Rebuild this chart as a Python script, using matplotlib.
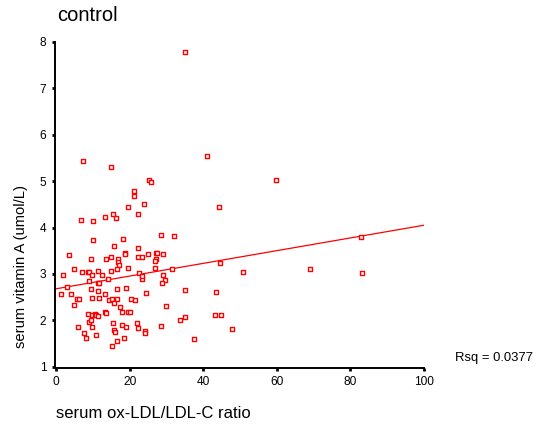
import matplotlib
matplotlib.use('Agg')
import matplotlib.pyplot as plt
import numpy as np

# serum ox-LDL/LDL-C ratio (x) and serum vitamin A (y), control group
ratio = [35.1, 7.4, 14.9, 41.0, 25.4, 25.9, 21.3, 21.3, 23.9, 19.7, 44.2, 59.7,
         6.7, 10.0, 13.2, 15.4, 16.2, 22.3,
         10.0, 15.8, 18.2, 28.5, 32.0,
         3.4, 9.5, 14.9, 13.6, 16.9, 16.9, 17.2, 18.7, 18.7, 22.4, 22.4, 23.3,
         24.9, 27.1, 27.5, 27.1, 26.9, 29.0, 26.8, 31.6, 19.7, 16.5, 44.5,
         2.0, 4.9, 7.2, 8.6, 9.0, 9.9, 11.4, 12.6, 14.9, 9.1, 11.5, 11.8, 14.1,
         22.6, 23.4, 23.4, 29.0, 29.6, 28.8,
         2.9, 1.3, 4.0, 5.6, 6.3, 4.8, 9.5, 11.4, 13.3, 11.6, 9.7, 16.5, 19.0,
         14.5, 15.2, 16.5, 15.8, 17.5, 20.5, 21.4, 24.5, 29.9, 35.1, 43.5,
         8.8, 9.9, 10.5, 10.9, 11.5, 13.4, 13.5, 17.9, 19.7, 20.2,
         8.9, 9.5, 9.7, 5.9, 15.6, 17.8, 19.1, 22.1, 22.4, 24.3, 24.3, 28.5,
         33.6, 35.1, 43.1, 44.9, 47.7,
         7.5, 8.2, 10.8, 15.8, 15.9, 16.5, 18.5, 15.2, 37.5,
         69.1, 50.9, 82.8, 83.1]
vitA = [7.78, 5.44, 5.31, 5.54, 5.03, 4.98, 4.78, 4.68, 4.50, 4.45, 4.45, 5.03,
        4.17, 4.14, 4.22, 4.29, 4.20, 4.29,
        3.73, 3.61, 3.76, 3.84, 3.81,
        3.41, 3.33, 3.37, 3.33, 3.33, 3.26, 3.19, 3.46, 3.42, 3.55, 3.37, 3.37,
        3.43, 3.45, 3.45, 3.33, 3.27, 3.43, 3.12, 3.10, 3.12, 3.10, 3.23,
        2.97, 3.10, 3.04, 3.04, 3.04, 2.98, 3.06, 2.97, 3.07, 2.85, 2.80, 2.80, 2.90,
        3.03, 2.90, 2.96, 2.97, 2.87, 2.80,
        2.71, 2.57, 2.57, 2.47, 2.47, 2.34, 2.67, 2.64, 2.57, 2.49, 2.49, 2.67, 2.70,
        2.44, 2.45, 2.45, 2.37, 2.29, 2.47, 2.44, 2.60, 2.31, 2.65, 2.62,
        2.14, 2.12, 2.14, 2.12, 2.09, 2.18, 2.15, 2.17, 2.18, 2.18,
        1.97, 2.01, 1.86, 1.86, 1.95, 1.91, 1.86, 1.94, 1.83, 1.78, 1.72, 1.88,
        2.01, 2.08, 2.11, 2.11, 1.81,
        1.73, 1.61, 1.68, 1.79, 1.75, 1.55, 1.61, 1.45, 1.60,
        3.10, 3.05, 3.79, 3.02]

# fit line as printed on the chart (intercept, slope)
fit_b0 = 2.68
fit_b1 = 0.0137
rsq = '0.0377'

xticks = [0, 20, 40, 60, 80, 100]
yticks = [1, 2, 3, 4, 5, 6, 7, 8]

plt.rcParams['font.family'] = ['Liberation Sans', 'DejaVu Sans']

fig = plt.figure(figsize=(5.4, 4.32), dpi=100)
ax = fig.add_axes([0.1037, 0.151, 0.6815, 0.752])

ax.scatter(ratio, vitA, marker='s', s=12, facecolors='white',
           edgecolors='red', linewidths=1.0, zorder=3)

xl = np.array([0, 100])
ax.plot(xl, fit_b0 + fit_b1 * xl, color='red', lw=0.9, zorder=2)

ax.set_xlim(0, 100)
ax.set_ylim(1, 8)
ax.set_xticks(xticks)
ax.set_yticks(yticks)
ax.tick_params(direction='out', length=2, width=2, labelsize=8.6, pad=4)
for s in ['top', 'right']:
    ax.spines[s].set_visible(False)
for s in ['left', 'bottom']:
    ax.spines[s].set_linewidth(1.4)
ax.spines['left'].set_position(('outward', 1))
ax.spines['bottom'].set_position(('outward', 1))

fig.text(0.039, 0.382, 'serum vitamin A (umol/L)', fontsize=10.6, rotation=90,
         ha='center', va='center')
fig.text(0.104, 0.025, 'serum ox-LDL/LDL-C ratio', fontsize=12, ha='left', va='bottom')
fig.text(0.106, 0.965, 'control', fontsize=14.5, ha='left', va='center')
fig.text(0.843, 0.171, 'Rsq = ' + rsq, fontsize=9.4, ha='left', va='center')

fig.savefig('out.png', dpi=100)
